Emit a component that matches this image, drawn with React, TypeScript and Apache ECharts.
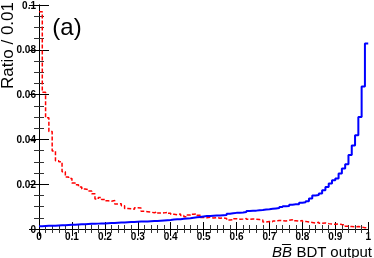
import React, { useEffect, useRef } from "react";
import * as echarts from "echarts";

const binWidth = 0.01;

// Red dashed histogram (bin i covers [i*0.01, (i+1)*0.01))
const redValues = [
  0.097, 0.061, 0.0497, 0.0435, 0.0348, 0.0305, 0.03, 0.0256, 0.0232, 0.0226,
  0.0205, 0.0197, 0.0188, 0.0179, 0.0176, 0.017, 0.0157, 0.0134, 0.0141, 0.0132,
  0.0126, 0.0124, 0.0127, 0.0112, 0.0113, 0.0104, 0.0092, 0.009, 0.0088, 0.0095,
  0.0094, 0.0079, 0.0077, 0.0075, 0.0073, 0.0076, 0.0071, 0.0072, 0.0074, 0.007,
  0.0066, 0.0064, 0.0067, 0.006, 0.0055, 0.0062, 0.0066, 0.0067, 0.0061, 0.0051,
  0.005, 0.0052, 0.0049, 0.0051, 0.0048, 0.005, 0.0047, 0.004, 0.0041, 0.0046,
  0.0044, 0.0045, 0.0047, 0.0043, 0.0045, 0.0044, 0.0042, 0.004, 0.0031, 0.0033,
  0.0032, 0.0036, 0.0038, 0.0037, 0.0036, 0.0039, 0.0041, 0.0037, 0.0035, 0.0038,
  0.0034, 0.0031, 0.0029, 0.0027, 0.003, 0.0026, 0.0027, 0.0024, 0.0022, 0.0021,
  0.0023, 0.002, 0.0019, 0.0012, 0.0011, 0.001, 0.0011, 0.0009, 0.0006, 0.0004,
];

// Blue solid histogram
const blueValues = [
  0.0012, 0.0013, 0.0014, 0.0015, 0.0015, 0.0016, 0.0017, 0.0017, 0.0018, 0.0019,
  0.0019, 0.002, 0.0021, 0.0021, 0.0022, 0.0023, 0.0023, 0.0024, 0.0025, 0.0025,
  0.0026, 0.0027, 0.0027, 0.0028, 0.0029, 0.0029, 0.003, 0.0031, 0.0031, 0.0032,
  0.0033, 0.0033, 0.0034, 0.0035, 0.0036, 0.0036, 0.0037, 0.0038, 0.0039, 0.004,
  0.0042, 0.0043, 0.0044, 0.0046, 0.0047, 0.0048, 0.005, 0.0052, 0.0054, 0.0056,
  0.0058, 0.0058, 0.0059, 0.006, 0.006, 0.0061, 0.0062, 0.0068, 0.007, 0.0072,
  0.0073, 0.0074, 0.0076, 0.008, 0.0081, 0.0082, 0.0084, 0.0085, 0.0087, 0.0088,
  0.009, 0.0092, 0.0094, 0.0098, 0.0102, 0.0103, 0.0108, 0.011, 0.0111, 0.0117,
  0.0119, 0.0124, 0.0136, 0.015, 0.0152, 0.0158, 0.0173, 0.0188, 0.0203, 0.0218,
  0.0225, 0.0248, 0.027, 0.0289, 0.033, 0.0373, 0.0418, 0.05, 0.0636, 0.0828,
];

const xMin = 0;
const xMax = 1;
const xInterval = 0.1;
const yMin = 0;
const yMax = 0.1;
const yInterval = 0.02;

const yTitle = "Ratio / 0.01";
const panelLabel = "(a)";
const xTitleItalic = "BB";
const xTitleRest = " BDT output";

function toSteps(values: number[]): number[][] {
  const pts = values.map((v, i) => [i * binWidth, v]);
  pts.push([values.length * binWidth, values[values.length - 1]]);
  return pts;
}

const FONT = "'Liberation Sans', Arial, Helvetica, sans-serif";

function measure(text: string, font: string): number {
  const c = document.createElement("canvas").getContext("2d");
  if (!c) return text.length * 8;
  c.font = font;
  return c.measureText(text).width;
}

export default function App() {
  const ref = useRef<HTMLDivElement>(null);
  useEffect(() => {
    if (!ref.current) return;
    document.body.style.margin = "0";
    const chart = echarts.init(ref.current, undefined, { renderer: "svg" });
    const axisLine = { show: true, lineStyle: { color: "#000", width: 1 } };
    const xCommon = {
      type: "value" as const,
      min: xMin,
      max: xMax,
      interval: xInterval,
      splitLine: { show: false },
      axisLine,
      axisTick: { show: true, inside: true, length: 7, lineStyle: { color: "#000" } },
      minorTick: { show: true, splitNumber: 5, length: 4, lineStyle: { color: "#333" } },
      minorSplitLine: { show: false },
    };
    const yCommon = {
      type: "value" as const,
      min: yMin,
      max: yMax,
      interval: yInterval,
      splitLine: { show: false },
      axisLine,
      axisTick: { show: true, inside: true, length: 10, lineStyle: { color: "#000" } },
      minorTick: { show: true, splitNumber: 4, length: 5, lineStyle: { color: "#333" } },
      minorSplitLine: { show: false },
    };

    const titleFont = `15px ${FONT}`;
    const titleItFont = `italic 15px ${FONT}`;
    const titleRight = 372;
    const titleY = 251;
    const wRest = measure(xTitleRest, titleFont);
    const wB = measure("B", titleItFont);
    const itRight = titleRight - wRest;
    const barX1 = itRight - wB;
    const barX2 = itRight - 1;

    chart.setOption({
      animation: false,
      grid: { left: 39, right: 2, top: 3, bottom: 29, containLabel: false },
      xAxis: [
        {
          ...xCommon,
          position: "bottom",
          axisLabel: {
            show: true,
            color: "#000",
            fontFamily: FONT,
            fontWeight: "bold",
            fontSize: 10,
            margin: 2,
            showMaxLabel: true,
            showMinLabel: true,
            hideOverlap: false,
          },
        },
        { ...xCommon, position: "top", axisLabel: { show: false } },
      ],
      yAxis: [
        {
          ...yCommon,
          position: "left",
          axisLabel: {
            show: true,
            color: "#000",
            fontFamily: FONT,
            fontWeight: "bold",
            fontSize: 10,
            margin: 3,
            showMaxLabel: true,
            showMinLabel: true,
          },
        },
        { ...yCommon, position: "right", axisLabel: { show: false } },
      ],
      series: [
        {
          type: "line",
          step: "end",
          data: toSteps(redValues),
          symbol: "none",
          lineStyle: { color: "#ff0000", width: 1.5, type: [4, 2] },
          xAxisIndex: 0,
          yAxisIndex: 0,
          z: 3,
        },
        {
          type: "line",
          step: "end",
          data: toSteps(blueValues),
          symbol: "none",
          lineStyle: { color: "#0000ff", width: 2 },
          xAxisIndex: 0,
          yAxisIndex: 0,
          z: 4,
        },
      ],
      graphic: [
        {
          type: "text",
          x: 16,
          y: 2,
          rotation: Math.PI / 2,
          style: {
            text: yTitle,
            font: `17px ${FONT}`,
            fill: "#000",
            align: "right",
            verticalAlign: "bottom",
          },
        },
        {
          type: "text",
          x: 67,
          y: 26,
          style: {
            text: panelLabel,
            font: `24px ${FONT}`,
            fill: "#000",
            align: "center",
            verticalAlign: "middle",
          },
        },
        {
          type: "text",
          x: titleRight,
          y: titleY,
          style: {
            text: xTitleRest,
            font: titleFont,
            fill: "#000",
            align: "right",
            verticalAlign: "middle",
          },
        },
        {
          type: "text",
          x: itRight,
          y: titleY,
          style: {
            text: xTitleItalic,
            font: titleItFont,
            fill: "#000",
            align: "right",
            verticalAlign: "middle",
          },
        },
        {
          type: "line",
          shape: { x1: barX1, y1: titleY - 6.5, x2: barX2, y2: titleY - 6.5 },
          style: { stroke: "#000", lineWidth: 1 },
        },
      ],
    });
    return () => chart.dispose();
  }, []);
  return (
    <div
      ref={ref}
      style={{ width: 374, height: 258, position: "fixed", left: 0, top: 0 }}
    />
  );
}
